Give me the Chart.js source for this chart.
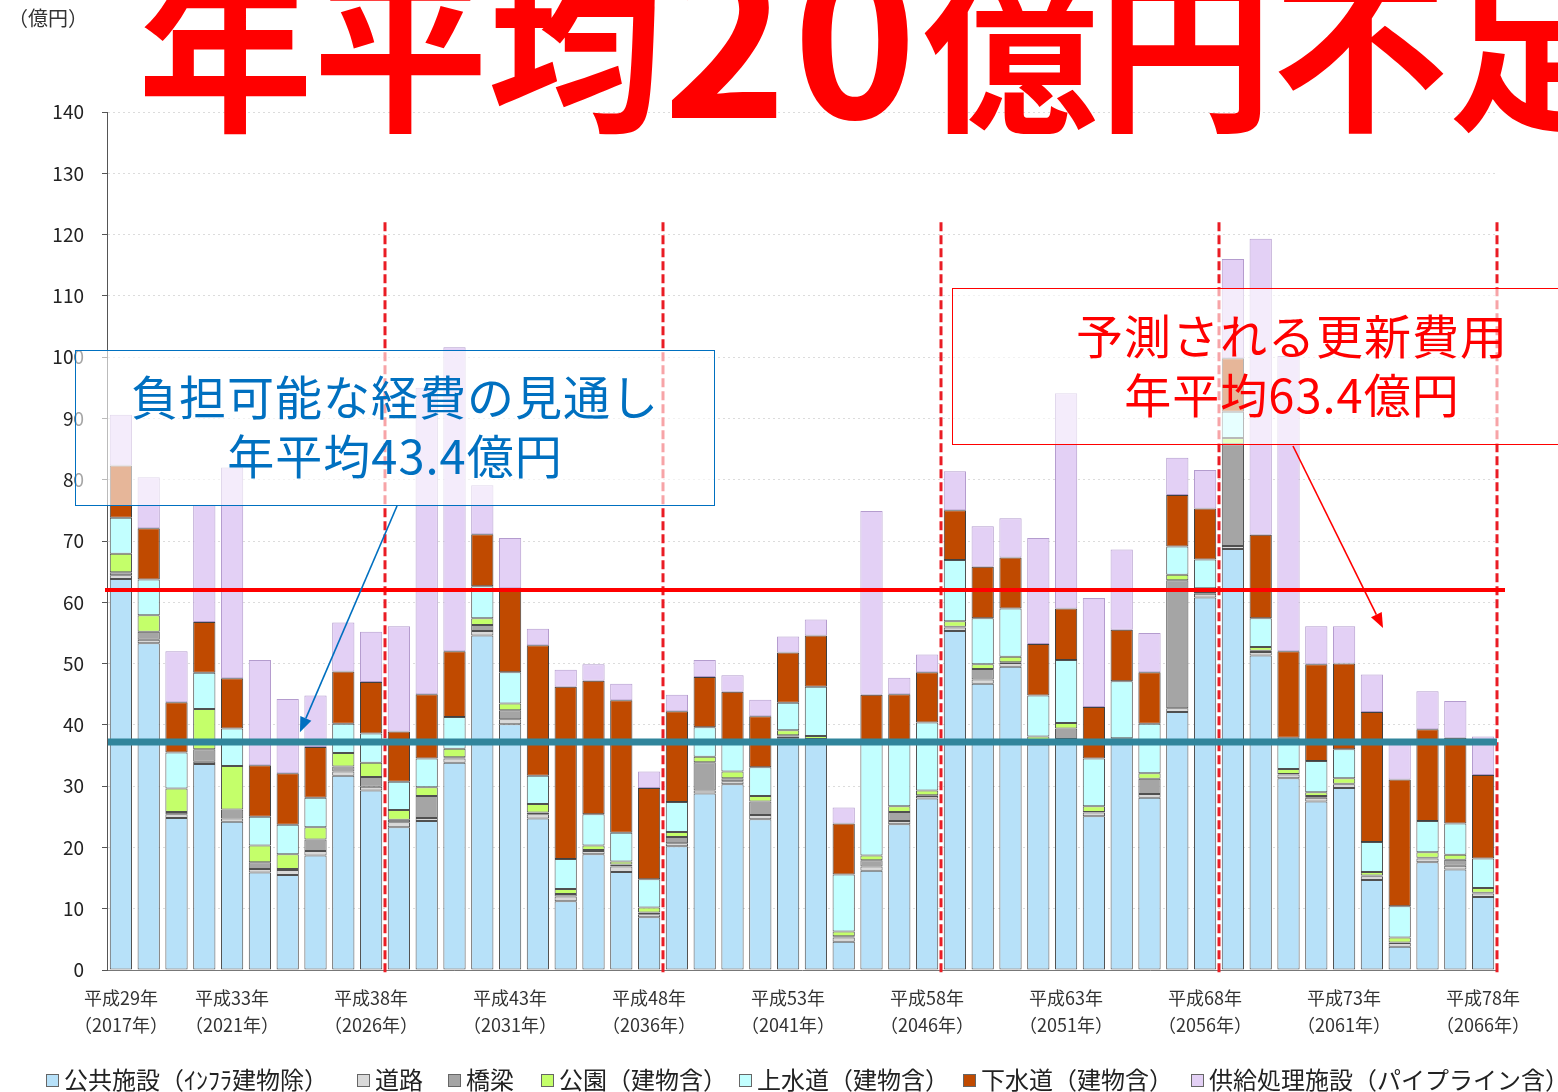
<!DOCTYPE html>
<html lang="ja">
<head>
<meta charset="utf-8">
<script src="https://cdn.jsdelivr.net/npm/chart.js@4.4.1/dist/chart.umd.min.js"></script>
<style>
  body { margin: 0; background: #fff; font-family: "Noto Sans CJK JP", sans-serif; }
  #wrap { position: relative; width: 1558px; height: 1092px; overflow: hidden; }
  #c { position: absolute; left: 0; top: 0; }
  .unit { position: absolute; left: 8px; top: 3px; font-size: 20px; color: #333; }
  .title { position: absolute; left: 138px; top: -46px; font-size: 175px; line-height: 1; font-weight: 700; color: #ff0000; white-space: nowrap; }
  .title .num { font-size: 210px; line-height: 0; letter-spacing: 6px; }
  .box { position: absolute; box-sizing: border-box; background: rgba(255, 255, 255, 0.6);
         display: flex; flex-direction: column; justify-content: center; align-items: center;
         font-size: 47px; line-height: 59px; letter-spacing: 1px; white-space: nowrap; padding-bottom: 8px; }
  #boxBudget { left: 75px; top: 350px; width: 640px; height: 156px; border: 1.5px solid #0070c0; color: #0070c0; }
  #boxRenew { left: 952px; top: 288px; width: 680px; height: 157px; border: 1.5px solid #ff0000; color: #ff0000; }
  .legend { position: absolute; top: 1062px; height: 34px; font-size: 24px; line-height: 34px; color: #222; white-space: nowrap; }
  .legend i { display: inline-block; width: 11px; height: 11px; border: 1px solid #666; margin-right: 5px; vertical-align: 2px; }
</style>
</head>
<body>
<div id="wrap">
  <canvas id="c" width="1558" height="1092"></canvas>
  <div class="unit">（億円）</div>
  <div class="box" id="boxBudget"><div>負担可能な経費の見通し</div><div>年平均43.4億円</div></div>
  <div class="box" id="boxRenew"><div>予測される更新費用</div><div>年平均63.4億円</div></div>
  <div class="title">年平均<span class="num">20</span>億円不足</div>
  <div id="legend"></div>
</div>
<script>
// 年度（2017〜2066）
const years = [2017, 2018, 2019, 2020, 2021, 2022, 2023, 2024, 2025, 2026,
  2027, 2028, 2029, 2030, 2031, 2032, 2033, 2034, 2035, 2036,
  2037, 2038, 2039, 2040, 2041, 2042, 2043, 2044, 2045, 2046,
  2047, 2048, 2049, 2050, 2051, 2052, 2053, 2054, 2055, 2056,
  2057, 2058, 2059, 2060, 2061, 2062, 2063, 2064, 2065, 2066];

const tickYears = [2017, 2021, 2026, 2031, 2036, 2041, 2046, 2051, 2056, 2061, 2066];
const tickHeisei = ['平成29年', '平成33年', '平成38年', '平成43年', '平成48年', '平成53年',
  '平成58年', '平成63年', '平成68年', '平成73年', '平成78年'];
const tickSeireki = ['（2017年）', '（2021年）', '（2026年）', '（2031年）', '（2036年）', '（2041年）',
  '（2046年）', '（2051年）', '（2056年）', '（2061年）', '（2066年）'];

// 億円
const publicFacilities = [63.8, 53.3, 24.8, 33.6, 24.2, 15.9, 15.5, 18.7, 31.7, 29.3,
  23.3, 24.3, 33.8, 54.6, 40.1, 24.7, 11.2, 18.9, 16.0, 8.6,
  20.2, 28.8, 30.3, 24.6, 37.8, 37.4, 4.6, 16.2, 23.8, 28.0,
  55.3, 46.7, 49.5, 36.8, 37.4, 25.1, 37.0, 28.1, 42.1, 60.8,
  68.7, 51.3, 31.3, 27.5, 29.7, 14.7, 3.8, 17.6, 16.4, 11.9];
const roads = [0.6, 0.6, 0.6, 0.4, 0.5, 0.6, 0.8, 0.7, 0.7, 0.6,
  0.8, 0.5, 0.7, 0.7, 0.8, 0.7, 0.8, 0.5, 0.9, 0.5,
  0.5, 0.5, 0.5, 0.7, 0.3, 0.3, 0.7, 0.7, 0.5, 0.4,
  0.6, 0.7, 0.6, 0.4, 0.3, 0.6, 0.4, 0.6, 0.6, 0.6,
  0.5, 0.6, 0.6, 0.6, 0.6, 0.6, 0.6, 0.6, 0.6, 0.6];
const bridges = [0.5, 1.3, 0.4, 2.0, 1.5, 1.1, 0.2, 1.9, 0.8, 1.6,
  0.4, 3.6, 0.2, 1.0, 1.5, 0.3, 0.4, 0.2, 0.3, 0.3,
  1.0, 4.6, 0.5, 2.2, 0.2, 0.0, 0.2, 1.0, 1.5, 0.1,
  0.1, 1.7, 0.1, 0.2, 1.7, 0.1, 0.1, 2.5, 20.9, 0.1,
  16.6, 0.2, 0.1, 0.3, 0.1, 0.1, 0.1, 0.1, 1.0, 0.1];
const parks = [3.0, 2.7, 3.8, 6.6, 7.1, 2.7, 2.4, 2.0, 2.2, 2.3,
  1.6, 1.4, 1.4, 1.1, 1.1, 1.4, 0.8, 0.7, 0.5, 0.8,
  0.8, 0.9, 1.1, 0.9, 0.8, 0.5, 0.8, 0.8, 0.9, 0.8,
  0.9, 0.8, 0.9, 0.7, 0.9, 0.9, 0.3, 0.9, 0.9, 0.8,
  1.0, 0.6, 0.8, 0.6, 0.9, 0.6, 0.8, 0.9, 0.8, 0.8];
const waterSupply = [5.9, 5.8, 5.9, 5.9, 6.1, 4.7, 4.8, 4.8, 4.8, 4.8,
  4.6, 4.7, 5.2, 5.2, 5.1, 4.6, 4.9, 5.1, 4.7, 4.6,
  4.9, 4.8, 4.8, 4.7, 4.5, 8.0, 9.3, 18.4, 10.3, 11.1,
  10.0, 7.5, 7.9, 6.7, 10.3, 7.8, 9.3, 8.1, 4.6, 4.7,
  4.3, 4.7, 5.1, 5.1, 4.7, 4.9, 5.1, 5.1, 5.1, 4.8];
const sewerage = [8.5, 8.4, 8.2, 8.3, 8.2, 8.4, 8.4, 8.3, 8.5, 8.4,
  8.2, 10.5, 10.7, 8.5, 13.7, 21.3, 28.1, 21.8, 21.6, 14.9,
  14.8, 8.2, 8.2, 8.3, 8.2, 8.4, 8.3, 7.8, 8.0, 8.2,
  8.1, 8.4, 8.3, 8.4, 8.4, 8.4, 8.4, 8.4, 8.4, 8.3,
  8.7, 13.6, 14.1, 15.8, 14.0, 21.2, 20.7, 15.0, 14.0, 13.6];
const supplyFacilities = [8.3, 8.3, 8.3, 19.1, 34.4, 17.2, 12.1, 8.4, 8.0, 8.2,
  17.2, 50.0, 49.6, 8.0, 8.2, 2.7, 2.8, 2.7, 2.7, 2.7,
  2.7, 2.8, 2.7, 2.7, 2.6, 2.6, 2.6, 30.0, 2.7, 2.9,
  6.4, 6.6, 6.4, 17.3, 35.1, 17.8, 13.1, 6.4, 6.1, 6.3,
  16.2, 48.3, 48.2, 6.2, 6.1, 6.1, 6.0, 6.2, 6.0, 6.3];

const seriesNames = ['公共施設（ｲﾝﾌﾗ建物除）', '道路', '橋梁', '公園（建物含）',
  '上水道（建物含）', '下水道（建物含）', '供給処理施設（パイプライン含）'];
const seriesData = [publicFacilities, roads, bridges, parks, waterSupply, sewerage, supplyFacilities];
const seriesColors = ['#b7e1f9', '#d9d9d9', '#a5a5a5', '#c4ff6a', '#c2ffff', '#c04a00', '#e3d0f5'];
const seriesBorders = ['#505050', '#505050', '#505050', '#505050', '#505050', '#404040', '#b49cce'];

// 見通し線・予測線（億円）
const budgetLine = 37.2;
const renewLine = 62.0;
// 10年ごとの区切り（この年度の後ろ）
const dividerAfter = [9, 19, 29, 39, 49];
const dividerTop = 122;
// 矢印の先（カテゴリ位置, 値）
const budgetArrowTip = [6.44, 38.8];
const renewArrowTip = [45.4, 55.8];

const legendX = [46, 357, 448, 541, 739, 963, 1191];

// legend (HTML)
const legendEl = document.getElementById('legend');
seriesNames.forEach((name, i) => {
  const d = document.createElement('div');
  d.className = 'legend';
  d.style.left = legendX[i] + 'px';
  d.innerHTML = '<i style="background:' + seriesColors[i] + '"></i>' + name;
  legendEl.appendChild(d);
});

function drawArrow(ctx, x0, y0, x1, y1, color) {
  const a = Math.atan2(y1 - y0, x1 - x0);
  const len = 15, half = 6;
  ctx.strokeStyle = color;
  ctx.fillStyle = color;
  ctx.lineWidth = 1.6;
  ctx.beginPath();
  ctx.moveTo(x0, y0);
  ctx.lineTo(x1 - Math.cos(a) * len, y1 - Math.sin(a) * len);
  ctx.stroke();
  ctx.beginPath();
  ctx.moveTo(x1, y1);
  ctx.lineTo(x1 - Math.cos(a) * len - Math.sin(a) * half, y1 - Math.sin(a) * len + Math.cos(a) * half);
  ctx.lineTo(x1 - Math.cos(a) * len + Math.sin(a) * half, y1 - Math.sin(a) * len - Math.cos(a) * half);
  ctx.closePath();
  ctx.fill();
}

const overlay = {
  id: 'overlay',
  afterDatasetsDraw(chart) {
    const { ctx, chartArea, scales: { x, y } } = chart;
    ctx.save();
    ctx.strokeStyle = '#ea1c24';
    ctx.lineWidth = 3;
    ctx.setLineDash([9, 4]);
    dividerAfter.forEach(i => {
      const px = x.getPixelForValue(i + 0.5);
      ctx.beginPath();
      ctx.moveTo(px, y.getPixelForValue(dividerTop));
      ctx.lineTo(px, chartArea.bottom + 5);
      ctx.stroke();
    });
    ctx.setLineDash([]);

    ctx.strokeStyle = '#ff0000';
    ctx.lineWidth = 4;
    ctx.beginPath();
    ctx.moveTo(chartArea.left - 2, y.getPixelForValue(renewLine));
    ctx.lineTo(chartArea.right + 8, y.getPixelForValue(renewLine));
    ctx.stroke();

    ctx.strokeStyle = '#31859c';
    ctx.lineWidth = 7;
    ctx.beginPath();
    ctx.moveTo(chartArea.left + 1, y.getPixelForValue(budgetLine));
    ctx.lineTo(chartArea.right, y.getPixelForValue(budgetLine));
    ctx.stroke();
    ctx.restore();
  },
  afterDraw(chart) {
    const { ctx, scales: { x, y } } = chart;
    const b1 = document.getElementById('boxBudget');
    const b2 = document.getElementById('boxRenew');
    ctx.save();
    drawArrow(ctx, b1.offsetLeft + 322, b1.offsetTop + b1.offsetHeight,
      x.getPixelForValue(budgetArrowTip[0]), y.getPixelForValue(budgetArrowTip[1]), '#0070c0');
    drawArrow(ctx, 1293, b2.offsetTop + b2.offsetHeight + 1,
      x.getPixelForValue(renewArrowTip[0]), y.getPixelForValue(renewArrowTip[1]), '#ff0000');
    ctx.restore();
  }
};

Chart.defaults.font.family = '"Noto Sans CJK JP", sans-serif';
Chart.defaults.color = '#333';

new Chart(document.getElementById('c'), {
  type: 'bar',
  data: {
    labels: years,
    datasets: seriesNames.map((name, i) => ({
      label: name,
      data: seriesData[i],
      backgroundColor: seriesColors[i],
      borderColor: seriesBorders[i],
      borderWidth: 1,
      borderSkipped: false,
      barPercentage: 0.8,
      categoryPercentage: 1.0,
    })),
  },
  options: {
    responsive: false,
    animation: false,
    devicePixelRatio: 1,
    layout: { padding: { top: 112, right: 61, bottom: 0, left: 0 } },
    plugins: { legend: { display: false }, tooltip: { enabled: false } },
    scales: {
      x: {
        stacked: true,
        grid: { display: false },
        border: { color: '#777', width: 1 },
        ticks: {
          autoSkip: false,
          maxRotation: 0,
          padding: 7,
          font: { size: 18, lineHeight: 1.5 },
          color: '#333',
          callback: (value, index) => {
            const k = tickYears.indexOf(years[index]);
            return k < 0 ? '' : [tickHeisei[k], tickSeireki[k]];
          },
        },
        afterFit: scale => { scale.height = 122; },
      },
      y: {
        stacked: true,
        min: 0,
        max: 140,
        ticks: { stepSize: 10, padding: 18, font: { size: 19 }, color: '#222' },
        grid: { color: '#dcdcdc', tickColor: '#555', tickLength: 5 },
        border: { color: '#555', width: 1, dash: [2, 3] },
        afterFit: scale => { scale.width = 107; },
      },
    },
  },
  plugins: [overlay],
});
</script>
</body>
</html>
